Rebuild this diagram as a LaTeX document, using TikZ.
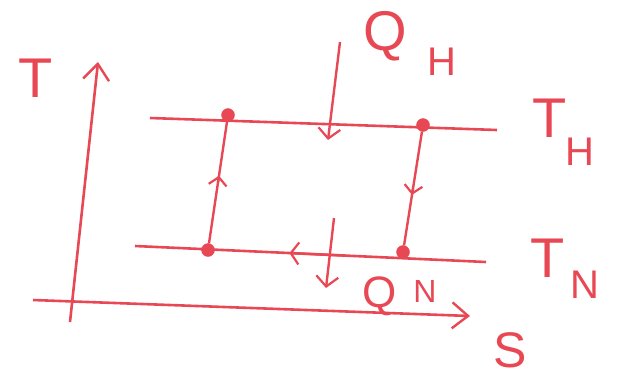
\documentclass[tikz,border=0pt]{standalone}
\usepackage{fontspec}
\setmainfont{Liberation Sans}
\usetikzlibrary{arrows.meta,calc}

\definecolor{pen}{RGB}{232,72,84}

\tikzset{
    axisline/.style={pen, line width=2.6pt, -{Straight Barb[length=16pt, width=26pt, line width=2.4pt]}},
    isoline/.style={pen, line width=2.6pt},
    stepline/.style={pen, line width=2.4pt},
    heatflow/.style={pen, line width=2.4pt, -{Straight Barb[length=10pt, width=22pt, line width=2.2pt]}},
    cornerdot/.style={circle, fill=pen, draw=pen, inner sep=0pt, minimum size=13pt},
    bigletter/.style={text=pen, inner sep=0pt, font=\fontsize{56}{56}\selectfont},
    smallletter/.style={text=pen, inner sep=0pt, font=\fontsize{40}{40}\selectfont}
}

\begin{document}
\begin{tikzpicture}[x=1pt, y=-1pt]

            \useasboundingbox (0,0) rectangle (617,381);

            \coordinate (Torigin) at (70,322);
            \coordinate (Ttip) at (98,62);
            \coordinate (Sorigin) at (33,300);
            \coordinate (Stip) at (470,316);

            \draw[axisline] (Torigin) -- (Ttip);
            \draw[axisline] (Sorigin) -- (Stip);

            \coordinate (hotL) at (150,118);
            \coordinate (hotR) at (497,130);
            \coordinate (coldL) at (135,246);
            \coordinate (coldR) at (486,262);

            \draw[isoline] (hotL) -- (hotR);
            \draw[isoline] (coldL) -- (coldR);

            \node[cornerdot] (A) at (228,115) {};
            \node[cornerdot] (B) at (423,125) {};
            \node[cornerdot] (C) at (403,252) {};
            \node[cornerdot] (D) at (208,250) {};

            \draw[stepline, -{Straight Barb[length=8pt, width=18pt, line width=2.2pt]}] (D) -- ($(D)!0.55!(A)$);
            \draw[stepline] ($(D)!0.5!(A)$) -- (A);
            \draw[stepline, -{Straight Barb[length=8pt, width=18pt, line width=2.2pt]}] (B) -- ($(B)!0.55!(C)$);
            \draw[stepline] ($(B)!0.5!(C)$) -- (C);
            \draw[stepline, -{Straight Barb[length=8pt, width=22pt, line width=2.2pt]}] ($(coldL)!0.6!(coldR)$) -- ($(coldL)!0.44!(coldR)$);

            \coordinate (QHstart) at (340,42);
            \coordinate (QHend) at (328,140);
            \coordinate (QNstart) at (334,218);
            \coordinate (QNend) at (326,288);

            \draw[heatflow] (QHstart) -- (QHend);
            \draw[heatflow] (QNstart) -- (QNend);

            \node[bigletter] (Tlabel) at (36,78) {T};
            \node[bigletter, font=\fontsize{50}{50}\selectfont] (Slabel) at (510,350) {S};
            \node[bigletter] (QH) at (385,36) {Q};
            \node[smallletter] (QHsub) at (442,62) {H};
            \node[bigletter] (TH) at (550,118) {T};
            \node[smallletter] (THsub) at (580,152) {H};
            \node[bigletter] (TN) at (548,258) {T};
            \node[smallletter] (TNsub) at (585,285) {N};
            \node[bigletter, font=\fontsize{44}{44}\selectfont] (QN) at (380,296) {Q};
            \node[smallletter, font=\fontsize{32}{32}\selectfont] (QNsub) at (425,291) {N};

        \end{tikzpicture}
\end{document}
